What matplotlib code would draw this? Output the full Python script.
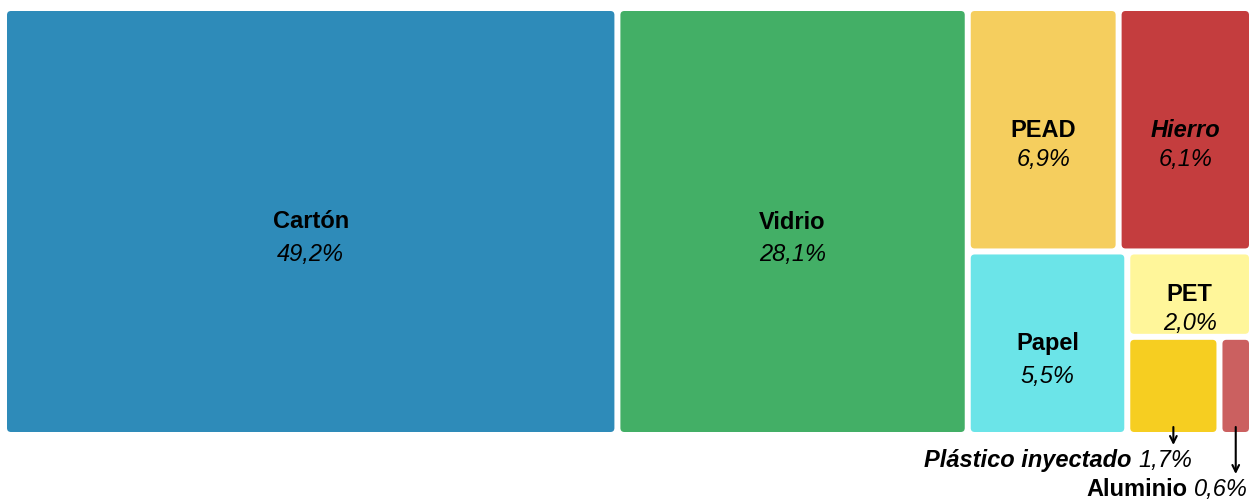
import matplotlib
matplotlib.use("Agg")
import matplotlib.pyplot as plt
from matplotlib.patches import FancyBboxPatch

# ---- data ----
categories = ["Cartón", "Vidrio", "PEAD", "Hierro", "Papel", "PET", "Plástico inyectado", "Aluminio"]
values = [49.2, 28.1, 6.9, 6.1, 5.5, 2.0, 1.7, 0.6]
value_labels = ["49,2%", "28,1%", "6,9%", "6,1%", "5,5%", "2,0%", "1,7%", "0,6%"]

# ---- style ----
colors = {
    "Cartón": "#2E8BB9",
    "Vidrio": "#43AF66",
    "PEAD": "#F5CE5E",
    "Hierro": "#C43D3E",
    "Papel": "#6BE4E8",
    "PET": "#FFF69A",
    "Plástico inyectado": "#F6CE21",
    "Aluminio": "#CB6060",
}
italic_names = {"Hierro", "Plástico inyectado"}
FONT = "Liberation Sans"
FS = 17
W, H = 1250, 499


def worst(row, w):
    s = sum(row)
    return max(max(w * w * r / (s * s), (s * s) / (w * w * r)) for r in row)


def squarify(vals, x, y, dx, dy):
    total = sum(vals)
    vals = [v * dx * dy / total for v in vals]
    rects = []
    while vals:
        w = min(dx, dy)
        row = [vals[0]]
        i = 1
        while i < len(vals) and worst(row + [vals[i]], w) <= worst(row, w):
            row.append(vals[i])
            i += 1
        s = sum(row)
        if dx >= dy:
            cw = s / dy
            yy = y
            for r in row:
                h = r / cw
                rects.append((x, yy, cw, h))
                yy += h
            x += cw
            dx -= cw
        else:
            rh = s / dx
            xx = x
            for r in row:
                ww = r / rh
                rects.append((xx, y, ww, rh))
                xx += ww
            y += rh
            dy -= rh
        vals = vals[i:]
    return rects


fig = plt.figure(figsize=(W / 100, H / 100), dpi=100)
ax = fig.add_axes([0, 0, 1, 1])
ax.set_xlim(0, W)
ax.set_ylim(H, 0)
ax.axis("off")
renderer = fig.canvas.get_renderer()

x0, y0, x1, y1 = 4, 8, 1252, 435
gap = 3
rects = squarify(values, x0, y0, x1 - x0, y1 - y0)


def text_width(s, **kw):
    t = ax.text(0, 0, s, fontsize=FS, family=FONT, **kw)
    bb = t.get_window_extent(renderer=renderer)
    t.remove()
    return bb.width


outside = []
for name, lab, (rx, ry, rw, rh) in zip(categories, value_labels, rects):
    bx, by, bw, bh = rx + gap, ry + gap, rw - 2 * gap, rh - 2 * gap
    ax.add_patch(FancyBboxPatch((bx, by), bw, bh,
                                boxstyle="round,pad=0,rounding_size=4",
                                facecolor=colors[name], edgecolor="none"))
    style = "italic" if name in italic_names else "normal"
    nw = text_width(name, fontweight="bold", fontstyle=style)
    cx = bx + bw / 2
    cy = by + bh / 2
    if nw > bw - 10:
        outside.append((name, lab, cx, by + bh, style))
        continue
    off = 33 if bw >= 150 else 29
    ax.text(cx, cy + 7, name, ha="center", va="baseline", fontsize=FS,
            family=FONT, fontweight="bold", fontstyle=style)
    ax.text(cx, cy + 7 + off, lab, ha="center", va="baseline", fontsize=FS,
            family=FONT, fontstyle="italic")

for i, (name, lab, cx, bottom, style) in enumerate(outside):
    base = bottom + 35 + 29 * i
    ax.annotate("", xy=(cx, base - 22), xytext=(cx, bottom - 5),
                arrowprops=dict(arrowstyle="->", color="black", lw=1.5,
                                mutation_scale=12, shrinkA=0, shrinkB=0))
    xr = min(cx + 19, W - 2)
    vw = text_width(lab, fontstyle="italic")
    sw = text_width("a a", fontweight="bold") - text_width("aa", fontweight="bold")
    ax.text(xr, base, lab, ha="right", va="baseline", fontsize=FS,
            family=FONT, fontstyle="italic")
    ax.text(xr - vw - sw, base, name, ha="right", va="baseline", fontsize=FS,
            family=FONT, fontweight="bold", fontstyle=style)

fig.savefig("out.png", dpi=100)
